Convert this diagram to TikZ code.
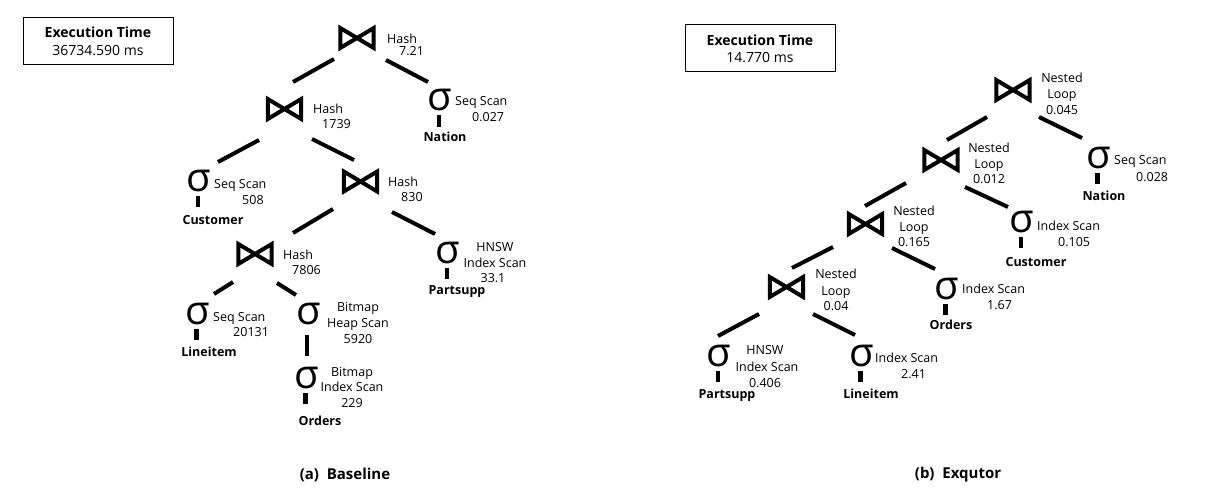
\documentclass[tikz,border=0pt]{standalone}
\usepackage{fontspec}
\setmainfont{Open Sans}
\newcommand{\lblfont}{\fontsize{12.5}{15}\selectfont}
\newcommand{\joinat}[3]{%
  \node[jn] (#1) at (#2,#3) {};
  \draw[bow] (#1.north west) -- (#1.south east) -- (#1.north east) -- (#1.south west) -- cycle;}
\newcommand{\edgeline}[5]{%
  \coordinate (#1a) at (#2,#3);
  \coordinate (#1b) at (#4,#5);
  \draw[edge] (#1a) -- (#1b);}
\newcommand{\sbar}[1]{\draw[bar] ([xshift=-1pt,yshift=-4pt]#1.south) -- ++(0,11.5);}
\begin{document}
\begin{tikzpicture}[x=1pt,y=-1pt,
  lw/.style={font=\lblfont, inner sep=0pt, anchor=base west},
  lc/.style={font=\lblfont, inner sep=0pt, anchor=base},
  tbl/.style={font=\lblfont\bfseries, inner sep=0pt, anchor=base},
  sig/.style={font=\fontsize{40}{44}\selectfont, inner sep=0pt},
  jn/.style={minimum width=33pt, minimum height=19.5pt, inner sep=0pt},
  bow/.style={line width=4pt, line join=miter, miter limit=10},
  edge/.style={line width=4pt},
  bar/.style={line width=4.6pt},
  tbox/.style={draw, line width=1pt, minimum width=150pt, minimum height=47pt, inner sep=0pt},
  boxt/.style={font=\fontsize{14}{17}\selectfont, inner sep=0pt, anchor=base},
  boxb/.style={font=\fontsize{14}{17}\selectfont\bfseries, inner sep=0pt, anchor=base},
  captxt/.style={font=\fontsize{15}{18}\selectfont\bfseries, inner sep=0pt, anchor=base}]
\fill[white] (0,0) rectangle (1229,495);
\useasboundingbox (0,0) rectangle (1229,495);

% ---------------- (a) Baseline ----------------
\node[tbox] (boxa) at (98,41.5) {};
\node[boxb] (boxa1) at (98,38) {Execution Time};
\node[boxt] (boxa2) at (98,56) {36734.590 ms};

\joinat{ja1}{357}{38}
\node[lw] (ja1l1) at (387,43.5) {Hash};
\node[lw] (ja1l2) at (399,55.5) {7.21};
\edgeline{ea1}{334}{59}{293}{82}
\edgeline{ea2}{386}{60}{428}{82}

\node[sig] (sa1) at (440,100) {σ};
\node[lw] (sa1l1) at (455,105.5) {Seq Scan};
\node[lw] (sa1l2) at (472,121.5) {0.027};
\sbar{sa1}
\node[tbl] (ta1) at (445,141.5) {Nation};

\joinat{ja2}{284.5}{109}
\node[lw] (ja2l1) at (313,113.5) {Hash};
\node[lw] (ja2l2) at (322,128.5) {1739};
\edgeline{ea3}{259}{140}{218}{162}
\edgeline{ea4}{312}{139}{354}{160}

\node[sig] (sa2) at (199,180.5) {σ};
\node[lw] (sa2l1) at (214,188.5) {Seq Scan};
\node[lw] (sa2l2) at (242,204.5) {508};
\sbar{sa2}
\node[tbl] (ta2) at (213,224.5) {Customer};

\joinat{ja3}{360.5}{181.5}
\node[lw] (ja3l1) at (388,186.5) {Hash};
\node[lw] (ja3l2) at (401,201.5) {830};
\edgeline{ea5}{333}{209}{293}{233}
\edgeline{ea6}{392}{212}{435}{234}

\joinat{ja4}{255}{254}
\node[lw] (ja4l1) at (283,259.5) {Hash};
\node[lw] (ja4l2) at (292,274.5) {7806};
\edgeline{ea7}{233}{282}{214}{294}
\edgeline{ea8}{277}{283}{296}{295}

\node[sig] (sa3) at (197.5,313.5) {σ};
\node[lw] (sa3l1) at (213,321.5) {Seq Scan};
\node[lw] (sa3l2) at (233,336.5) {20131};
\sbar{sa3}
\node[tbl] (ta3) at (209,356.5) {Lineitem};

\node[sig] (sa4) at (309,313.5) {σ};
\node[lc] (sa4l1) at (358,311.5) {Bitmap};
\node[lc] (sa4l2) at (358,327.5) {Heap Scan};
\node[lc] (sa4l3) at (358,343.5) {5920};

\node[sig] (sa5) at (306.5,377.5) {σ};
\node[lc] (sa5l1) at (352,376.5) {Bitmap};
\node[lc] (sa5l2) at (352,391.5) {Index Scan};
\node[lc] (sa5l3) at (352,407.5) {229};
\draw[bar] ([xshift=-2pt,yshift=-10.5pt]sa4.south) -- ++(0,21);
\sbar{sa5}
\node[tbl] (ta5) at (320,425.5) {Orders};

\node[sig] (sa6) at (448,252.5) {σ};
\node[lc] (sa6l1) at (495,251.5) {HNSW};
\node[lc] (sa6l2) at (495,267.5) {Index Scan};
\node[lc] (sa6l3) at (493,282.5) {33.1};
\sbar{sa6}
\node[tbl] (ta6) at (457,294.5) {Partsupp};

\node[captxt] (capa) at (345,479.5) {(a)\ \ Baseline};

% ---------------- (b) Exqutor ----------------
\node[tbox] (boxb) at (760,48.5) {};
\node[boxb] (boxb1) at (760,46) {Execution Time};
\node[boxt] (boxb2) at (760,63) {14.770 ms};

\joinat{jb1}{1013}{90}
\node[lc] (jb1l1) at (1062,82.5) {Nested};
\node[lc] (jb1l2) at (1062,98.5) {Loop};
\node[lc] (jb1l3) at (1062,114.5) {0.045};
\edgeline{eb1}{987}{117}{947}{140}
\edgeline{eb2}{1039}{117}{1082}{138}

\node[sig] (sb1) at (1098.5,157.5) {σ};
\node[lw] (sb1l1) at (1114,164.5) {Seq Scan};
\node[lw] (sb1l2) at (1136,181.5) {0.028};
\sbar{sb1}
\node[tbl] (tb1) at (1104,200.5) {Nation};

\joinat{jb2}{941}{160}
\node[lc] (jb2l1) at (989,152.5) {Nested};
\node[lc] (jb2l2) at (989,168.5) {Loop};
\node[lc] (jb2l3) at (989,183.5) {0.012};
\edgeline{eb3}{906}{183}{865}{206}
\edgeline{eb4}{965}{187}{1008}{207}

\node[sig] (sb2) at (1022,221.5) {σ};
\node[lw] (sb2l1) at (1037,230.5) {Index Scan};
\node[lw] (sb2l2) at (1058,246.5) {0.105};
\sbar{sb2}
\node[tbl] (tb2) at (1036,266.5) {Customer};

\joinat{jb3}{865.5}{224}
\node[lc] (jb3l1) at (914,215.5) {Nested};
\node[lc] (jb3l2) at (914,231.5) {Loop};
\node[lc] (jb3l3) at (914,246) {0.165};
\edgeline{eb5}{833}{247}{792}{268}
\edgeline{eb6}{892}{248}{935}{269}

\node[sig] (sb3) at (946.5,288.5) {σ};
\node[lw] (sb3l1) at (962,293.5) {Index Scan};
\node[lw] (sb3l2) at (987,309.5) {1.67};
\sbar{sb3}
\node[tbl] (tb3) at (951,329.5) {Orders};

\joinat{jb4}{786.5}{287}
\node[lc] (jb4l1) at (836,278.5) {Nested};
\node[lc] (jb4l2) at (836,295.5) {Loop};
\node[lc] (jb4l3) at (836,310.5) {0.04};
\edgeline{eb7}{759}{314}{718}{336}
\edgeline{eb8}{813}{314}{855}{335}

\node[sig] (sb4) at (719,355.5) {σ};
\node[lc] (sb4l1) at (765,354.5) {HNSW};
\node[lc] (sb4l2) at (767,371.5) {Index Scan};
\node[lc] (sb4l3) at (765,387.5) {0.406};
\sbar{sb4}
\node[tbl] (tb4) at (727,398.5) {Partsupp};

\node[sig] (sb5) at (861.5,355.5) {σ};
\node[lw] (sb5l1) at (875,362.5) {Index Scan};
\node[lw] (sb5l2) at (901,378.5) {2.41};
\sbar{sb5}
\node[tbl] (tb5) at (871,398.5) {Lineitem};

\node[captxt] (capb) at (958,478.5) {(b)\ \ Exqutor};
\end{tikzpicture}
\end{document}
